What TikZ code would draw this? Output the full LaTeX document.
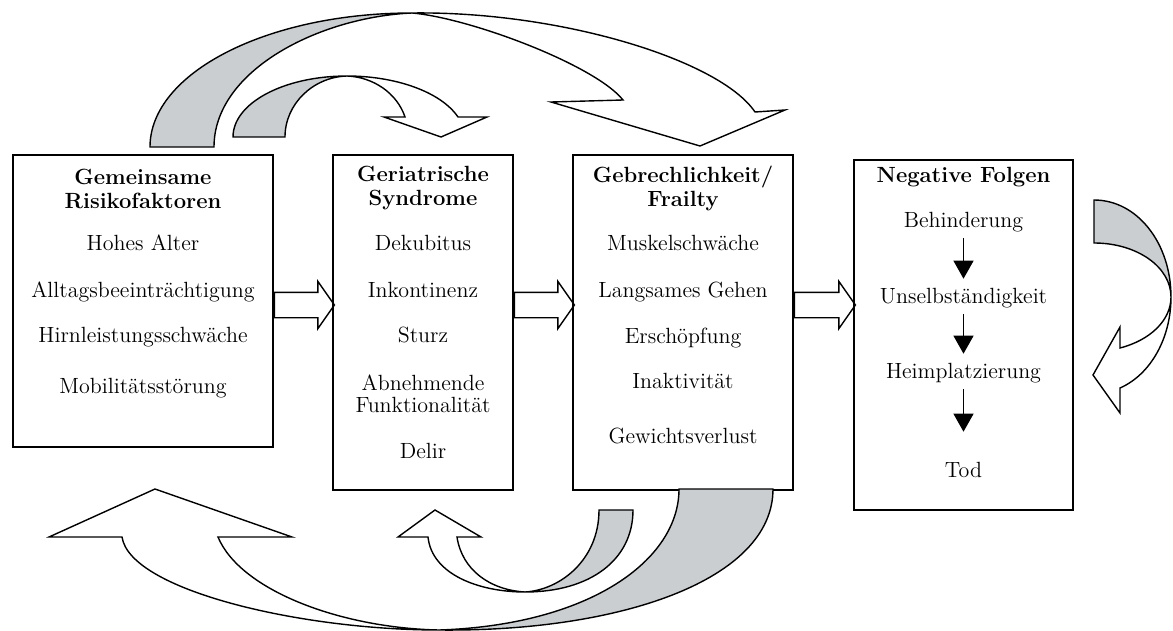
\documentclass[tikz,border=0pt]{standalone}
\usetikzlibrary{arrows.meta,shapes.arrows}
\definecolor{bandgray}{RGB}{203,206,209}
\begin{document}
\begin{tikzpicture}[x=0.5pt,y=-0.5pt,line width=0.7pt,
panel/.style={draw,rectangle,inner sep=0pt},
item/.style={font=\fontsize{11}{13}\selectfont,text height=7.6pt,text depth=2pt,inner sep=3pt},
titel/.style={font=\fontsize{11}{12}\selectfont\bfseries,align=center,inner sep=0pt},
blockarrow/.style={draw,single arrow,single arrow tip angle=110,single arrow head extend=5.5pt,minimum width=23pt,minimum height=30pt,inner sep=6pt,anchor=tail},
stepper/.style={-{Triangle[width=10pt,length=9pt]},line width=0.6pt},
band/.style={draw,fill=bandgray},
bandhead/.style={draw,fill=white}]

\useasboundingbox (0,0) rectangle (1173,631);

\draw (143,301) node[panel,minimum width=130pt,minimum height=146pt] (risk) {};
\draw (423,322.5) node[panel,minimum width=90pt,minimum height=167.5pt] (syn) {};
\draw (683,322.5) node[panel,minimum width=110pt,minimum height=167.5pt] (frail) {};
\draw (963.5,335) node[panel,minimum width=109.5pt,minimum height=175pt] (folg) {};

\draw (143,188.5) node[titel] (riskT) {Gemeinsame\\Risikofaktoren};
\draw (143,245) node[item] (alter) {Hohes Alter};
\draw (143,292) node[item] (alltag) {Alltagsbeeinträchtigung};
\draw (143,337) node[item] (hirn) {Hirnleistungsschwäche};
\draw (143,388) node[item] (mobil) {Mobilitätsstörung};

\draw (423,188.5) node[titel] (synT) {Geriatrische\\Syndrome};
\draw (423,245) node[item] (dekub) {Dekubitus};
\draw (423,292) node[item] (inkont) {Inkontinenz};
\draw (423,337) node[item] (sturz) {Sturz};
\draw (423,393.5) node[titel,font=\fontsize{11}{11}\selectfont] (funkt) {Abnehmende\\Funktionalität};
\draw (423,453) node[item] (delir) {Delir};

\draw (683,188.5) node[titel] (frailT) {Gebrechlichkeit/\\Frailty};
\draw (683,245) node[item] (muskel) {Muskelschwäche};
\draw (683,292) node[item] (gehen) {Langsames Gehen};
\draw (683,338) node[item] (erschoepf) {Erschöpfung};
\draw (683,383) node[item] (inakt) {Inaktivität};
\draw (683,438) node[item] (gewicht) {Gewichtsverlust};

\draw (963.5,177) node[item,font=\fontsize{11}{13}\selectfont\bfseries] (folgT) {Negative Folgen};
\draw (963.5,222) node[item] (beh) {Behinderung};
\draw (963.5,298) node[item] (unsel) {Unselbständigkeit};
\draw (963.5,373) node[item] (heim) {Heimplatzierung};
\draw (963.5,472) node[item] (tod) {Tod};

\draw[stepper,shorten >=1.5pt] (beh) -- (unsel);
\draw[stepper,shorten >=1.5pt] (unsel) -- (heim);
\draw[stepper,shorten >=12pt] (heim) -- (tod);

\coordinate (mitte) at (0,305);
\node[blockarrow] (pfeilA) at (risk.east |- mitte) {};
\node[blockarrow] (pfeilB) at (syn.east |- mitte) {};
\node[blockarrow,minimum height=30.5pt] (pfeilC) at (frail.east |- mitte) {};

\draw[band] (150,147) .. controls (150,73) and (267,13) .. (412,13)
  .. controls (320,17) and (214,70) .. (214,147) -- cycle;
\draw[bandhead] (412,13) .. controls (560,11) and (720,60) .. (755,112)
  -- (785,110) -- (700,146) -- (551,102) -- (623,100)
  .. controls (595,65) and (470,18) .. (412,13) -- cycle;

\draw[band] (233,137) .. controls (233,103) and (284,76) .. (347,76)
  .. controls (313,77) and (285,104) .. (285,137) -- cycle;
\draw[bandhead] (347,76) .. controls (396,76) and (441,92) .. (458,117)
  -- (487,117) -- (441,137) -- (384,117) -- (405,117)
  .. controls (397,93) and (373,77) .. (347,76) -- cycle;

\draw[band] (1094,200) .. controls (1137.5,200) and (1171,243.5) .. (1171,297)
  .. controls (1171,267) and (1137,243) .. (1094,243) -- cycle;
\draw[bandhead] (1171,297) .. controls (1171,338) and (1150.7,374.5) .. (1120,388)
  -- (1120,413) -- (1093,375) -- (1120,327) -- (1120,348)
  .. controls (1150.7,340) and (1171,320) .. (1171,297) -- cycle;

\draw[band] (439,630) .. controls (620,632) and (773,580) .. (773,489)
  -- (679,489) .. controls (679,560) and (590,625) .. (439,630) -- cycle;
\draw[bandhead] (439,630) .. controls (300,630) and (130,590) .. (122,537)
  -- (49,537) -- (155,489) -- (292,537) -- (218,537)
  .. controls (240,590) and (340,628) .. (439,630) -- cycle;

\draw[band] (525,592) .. controls (590,592) and (633,560) .. (633,510)
  -- (599,510) .. controls (599,560) and (560,590) .. (525,592) -- cycle;
\draw[bandhead] (525,592) .. controls (480,592) and (432,575) .. (428,537)
  -- (398,537) -- (435,510) -- (481,537) -- (457,537)
  .. controls (462,570) and (490,590) .. (525,592) -- cycle;

\end{tikzpicture}
\end{document}
